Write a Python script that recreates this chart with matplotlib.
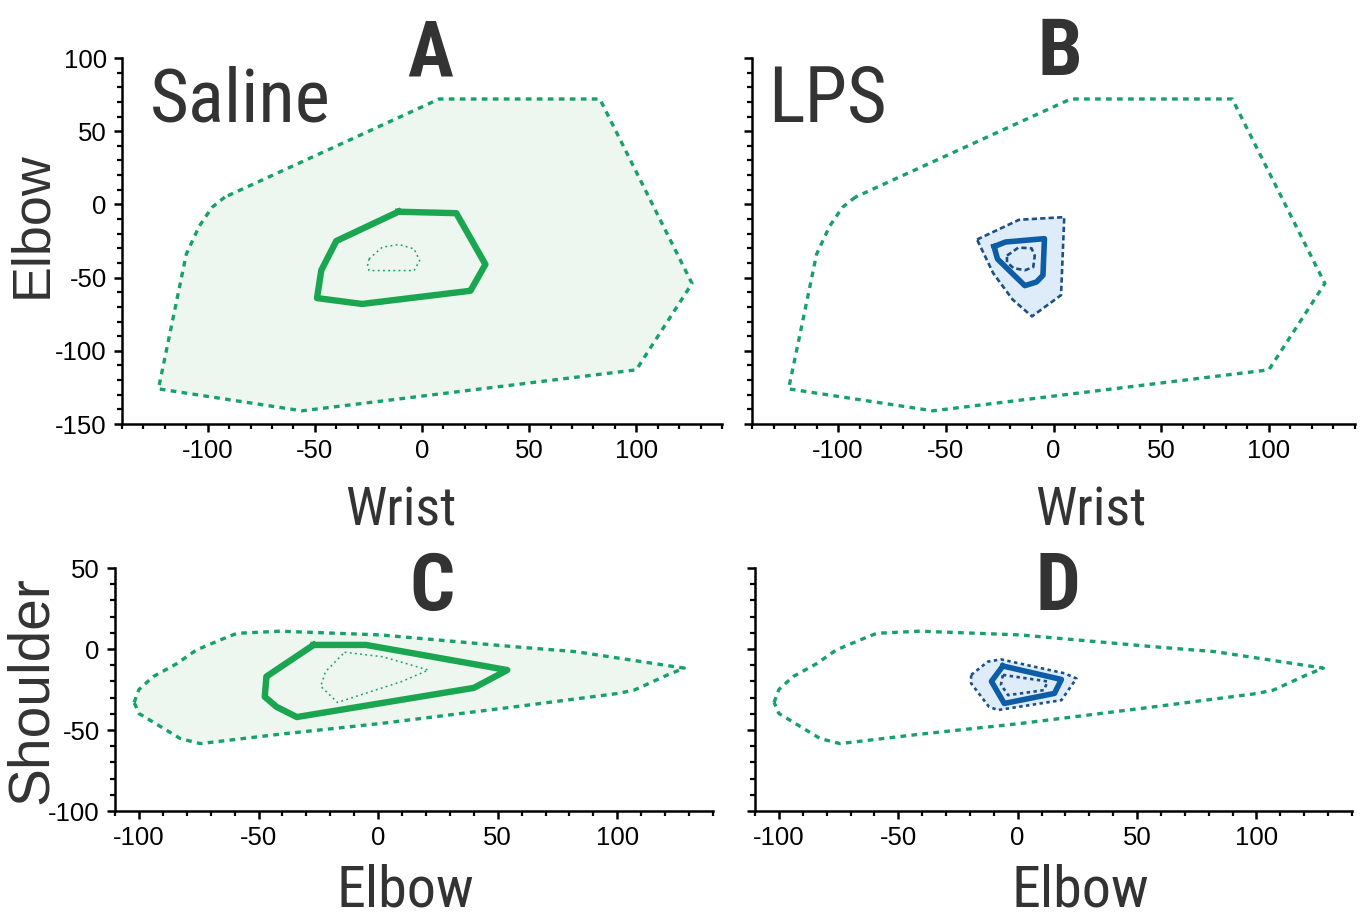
import matplotlib
matplotlib.use("Agg")
import matplotlib.pyplot as plt
import matplotlib.font_manager as fm
from matplotlib.ticker import MultipleLocator

# wrist-elbow envelopes (panels A and B)
saline_we_outer_x = [-92, -98, -104, -110, -123, -56, 100, 126, 83, 8, -92]
saline_we_outer_y = [5, -2, -15, -34, -126, -141, -113, -54, 72, 72, 5]
saline_we_mid_x = [-11, 16, 29.6, 22.6, -28, -49, -47, -40, -11]
saline_we_mid_y = [-5, -6, -41, -59, -68, -64, -45, -25, -5]
saline_we_inner_x = [-24.7, -18.5, -10.7, -3.7, -1.1, -3.7, -24.7, -25.4, -24.7]
saline_we_inner_y = [-37.2, -29.2, -27.4, -30.4, -38.4, -45.2, -45.2, -41.8, -37.2]

lps_we_outer_x = [-35.5, -16, 5, 3.5, -10, -19, -28, -35.5]
lps_we_outer_y = [-24, -10.5, -8.7, -62, -76.5, -65, -47, -24]
lps_we_mid_x = [-27.6, -22.3, -4.2, -4.9, -7.9, -13.3, -26, -27.6]
lps_we_mid_y = [-28.8, -25.7, -23.4, -48.4, -53, -55.5, -37.3, -28.8]
lps_we_inner_x = [-21.6, -16.3, -10.2, -8.7, -9.4, -13.3, -18.6, -21.6, -21.6]
lps_we_inner_y = [-35, -29.5, -30, -35, -42.8, -45, -43.5, -39.5, -35]

# elbow-shoulder envelopes (panels C and D)
saline_es_outer_x = [-102, -100, -94, -84, -76, -66, -59, -41, 1, 57, 83, 128,
                     121, 107, 100, 57, 1, -41, -74.4, -82.7, -100, -102]
saline_es_outer_y = [-33, -25, -17, -8.9, -0.6, 5.6, 9.7, 11, 8.7, 1.4, -1.7, -11.8,
                     -16, -25.4, -27.5, -35.7, -46, -52.6, -58.4, -55.3, -39.8, -33]
saline_es_mid_x = [-27, -5, 54, 40, -34, -42.5, -47.4, -46.7, -27]
saline_es_mid_y = [2.5, 2.5, -13, -24, -42, -35.7, -29.5, -17, 2.5]
saline_es_inner_x = [-14, 2, 21, 10, -17, -24, -22, -14]
saline_es_inner_y = [-2, -4.8, -13, -20, -33, -23, -14, -2]

lps_es_outer_x = [-19.5, -12.5, -7, 19.6, 24.6, 18.3, -8.3, -12, -19.5, -19.5]
lps_es_outer_y = [-16, -7.8, -6.4, -15, -18.2, -31.6, -37.7, -35.7, -21.2, -16]
lps_es_mid_x = [-6.2, 18.3, 15.4, -5.6, -11, -6.2]
lps_es_mid_y = [-10.5, -18.8, -27.4, -33.6, -20, -10.5]
lps_es_inner_x = [-6.2, 12.5, 11, -4, -7, -6.2]
lps_es_inner_y = [-16, -20, -25.4, -28.5, -22, -16]

green_dash = "#16a06a"
green_solid = "#1aa550"
green_fill = "#edf6ef"
blue_dash = "#1d4f86"
blue_solid = "#0c5ca6"
blue_fill = "#ddecf8"
text_grey = "#333333"

plt.rcParams["font.family"] = ["Liberation Sans", "DejaVu Sans"]
plt.rcParams["axes.unicode_minus"] = False


def find_font(bold=False):
    # look for a narrow sans face, fall back to plain Liberation Sans
    wanted = [("Liberation Sans Narrow", None), ("Roboto Condensed", None),
              ("DejaVu Sans", "condensed")]
    for name, stretch in wanted:
        for f in fm.fontManager.ttflist:
            if f.name != name or f.style != "normal":
                continue
            if stretch and f.stretch != stretch:
                continue
            w = f.weight if isinstance(f.weight, int) else (700 if f.weight == "bold" else 400)
            if (w >= 600) == bold:
                return fm.FontProperties(fname=f.fname)
    return fm.FontProperties(family="Liberation Sans", weight="bold" if bold else "normal")


narrow = find_font()
narrow_bold = find_font(bold=True)
plain = fm.FontProperties(family="Liberation Sans")

W, H = 1364, 922
fig = plt.figure(figsize=(W / 100, H / 100), dpi=100)


def box(l, r, t, b):
    return [l / W, 1 - b / H, (r - l) / W, (b - t) / H]


axA = fig.add_axes(box(122, 722, 58, 424))
axB = fig.add_axes(box(752, 1355, 58, 424))
axC = fig.add_axes(box(115, 713, 568, 811))
axD = fig.add_axes(box(755, 1352, 568, 811))


def green_set(ax, ox, oy, mx, my, ix, iy, fill):
    if fill:
        ax.fill(ox, oy, color=green_fill, lw=0, zorder=1)
    ax.plot(ox, oy, color=green_dash, lw=2.4, ls=(0, (1.7, 1.6)), zorder=2)
    if mx is not None:
        ax.plot(mx, my, color=green_solid, lw=4.6, solid_joinstyle="round", zorder=3)
        ax.plot(ix, iy, color=green_dash, lw=1.1, ls=(0, (1.2, 2.2)), zorder=3)


def blue_set(ax, ox, oy, mx, my, ix, iy, dash):
    ax.fill(ox, oy, color=blue_fill, lw=0, zorder=3)
    ax.plot(ox, oy, color=blue_dash, lw=1.9, ls=dash, zorder=4)
    ax.plot(mx, my, color=blue_solid, lw=4.0, solid_joinstyle="round", zorder=5)
    ax.plot(ix, iy, color=blue_dash, lw=1.9, ls=dash, zorder=5)


green_set(axA, saline_we_outer_x, saline_we_outer_y, saline_we_mid_x, saline_we_mid_y,
          saline_we_inner_x, saline_we_inner_y, True)
green_set(axB, saline_we_outer_x, saline_we_outer_y, None, None, None, None, False)
blue_set(axB, lps_we_outer_x, lps_we_outer_y, lps_we_mid_x, lps_we_mid_y,
         lps_we_inner_x, lps_we_inner_y, (0, (2.0, 1.2)))

green_set(axC, saline_es_outer_x, saline_es_outer_y, saline_es_mid_x, saline_es_mid_y,
          saline_es_inner_x, saline_es_inner_y, True)
green_set(axD, saline_es_outer_x, saline_es_outer_y, None, None, None, None, False)
blue_set(axD, lps_es_outer_x, lps_es_outer_y, lps_es_mid_x, lps_es_mid_y,
         lps_es_inner_x, lps_es_inner_y, (0, (1.3, 1.3)))

for ax in (axA, axB):
    ax.set_xlim(-140, 140)
    ax.set_ylim(-150, 100)
for ax in (axC, axD):
    ax.set_xlim(-110, 140)
    ax.set_ylim(-100, 50)

for ax in (axA, axB, axC, axD):
    ax.set_facecolor("none")
    for s in ("top", "right"):
        ax.spines[s].set_visible(False)
    for s in ("left", "bottom"):
        ax.spines[s].set_linewidth(1.8)
        ax.spines[s].set_color("black")
    ax.xaxis.set_major_locator(MultipleLocator(50))
    ax.xaxis.set_minor_locator(MultipleLocator(10))
    ax.yaxis.set_major_locator(MultipleLocator(50))
    ax.yaxis.set_minor_locator(MultipleLocator(10))
    ax.tick_params(which="major", length=6, width=1.8, labelsize=18.5, pad=5)
    ax.tick_params(which="minor", length=3.5, width=1.6)
    ax.set_xticks([-100, -50, 0, 50, 100])

axB.tick_params(axis="y", labelleft=False)
axD.tick_params(axis="y", labelleft=False)

renderer = fig.canvas.get_renderer()


def fit_text(x, y, s, span_px, cap_px, fp, rotation=0, **kw):
    # size the text between the reference's width and its cap height
    t = fig.text(x / W, 1 - y / H, s, fontproperties=fp.copy(), rotation=rotation,
                 color=text_grey, **kw)
    t.set_fontsize(20)
    bb = t.get_window_extent(renderer)
    span = bb.height if rotation else bb.width
    s_w = 20 * span_px / span
    s_h = cap_px / 0.72 * 0.72
    t.set_fontsize(s_w ** 0.65 * s_h ** 0.35)
    return t


fit_text(150, 122, "Saline", 175, 57, narrow, va="baseline")
fit_text(768, 122, "LPS", 117, 57, narrow, va="baseline")

for letter, x, y in (("A", 430, 75), ("B", 1060, 75), ("C", 432, 610), ("D", 1058, 610)):
    fit_text(x, y, letter, 50, 47, narrow_bold, ha="center", va="baseline")

fit_text(401, 525, "Wrist", 103, 45, narrow, ha="center", va="baseline")
fit_text(1091, 525, "Wrist", 103, 45, narrow, ha="center", va="baseline")
fit_text(405, 906, "Elbow", 130, 46, narrow, ha="center", va="baseline")
fit_text(1080, 906, "Elbow", 130, 46, narrow, ha="center", va="baseline")
fit_text(32, 225, "Elbow", 160, 33, plain, rotation=90, ha="center", va="center")
fit_text(32, 690, "Shoulder", 247, 35, plain, rotation=90, ha="center", va="center")

fig.savefig("out.png", dpi=100)
